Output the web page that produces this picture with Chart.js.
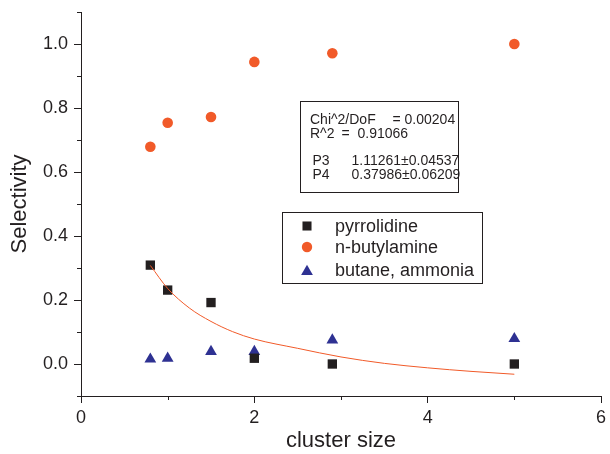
<!DOCTYPE html>
<html><head><meta charset="utf-8">
<script src="https://cdn.jsdelivr.net/npm/chart.js@4"></script>
<style>html,body{margin:0;padding:0;background:#fff}#wrap{width:610px;height:454px;position:relative}</style>
</head><body><div id="wrap"><canvas id="c" width="610" height="454"></canvas></div>
<script>
// ---- data ----
const clusterSizes = [0.8, 1.0, 1.5, 2.0, 2.9, 5.0];
const pyrrolidine = [0.309, 0.231, 0.192, 0.018, 0.0, 0.0];
const nButylamine = [0.679, 0.754, 0.772, 0.944, 0.971, 1.0];
const butaneAmmonia = [0.015, 0.018, 0.039, 0.039, 0.075, 0.079];
const fitX = [0.8, 1.0, 1.25, 1.5, 1.75, 2.0, 2.5, 3.0, 3.5, 4.0, 4.5, 5.0];
const fitY = [0.308, 0.236, 0.175, 0.133, 0.101, 0.078, 0.049, 0.022, 0.002, -0.012, -0.023, -0.032];
const xMajorTicks = [0, 2, 4, 6];
const xMinorTicks = [1, 3, 5];
const yMajorTicks = [0.0, 0.2, 0.4, 0.6, 0.8, 1.0];
const yMinorTicks = [-0.1, 0.1, 0.3, 0.5, 0.7, 0.9, 1.1];
const seriesNames = ['pyrrolidine', 'n-butylamine', 'butane, ammonia'];
const statsLabels = ['Chi^2/DoF', 'R^2', 'P3', 'P4'];
const statsValues = ['= 0.00204', '=  0.91066', '1.11261\u00b10.04537', '0.37986\u00b10.06209'];

const INK = '#231F20';
const ORANGE = '#F15A29';
const NAVY = '#2E3192';
const FONT = '"Liberation Sans", Arial, sans-serif';

const pts = ys => clusterSizes.map((x, i) => ({x, y: ys[i]}));

function marker(ctx, style, x, y, r, color) {
  ctx.save();
  ctx.fillStyle = color;
  ctx.beginPath();
  if (style === 'rect') {
    const s = r * Math.SQRT1_2;
    ctx.rect(x - s, y - s, 2 * s, 2 * s);
  } else if (style === 'circle') {
    ctx.arc(x, y, r, 0, Math.PI * 2);
  } else {
    ctx.moveTo(x, y - r);
    ctx.lineTo(x + r * Math.sin(2 * Math.PI / 3), y + r / 2);
    ctx.lineTo(x - r * Math.sin(2 * Math.PI / 3), y + r / 2);
    ctx.closePath();
  }
  ctx.fill();
  ctx.restore();
}

const extras = {
  id: 'extras',
  afterDraw(chart) {
    const ctx = chart.ctx;
    const xs = chart.scales.x, ys = chart.scales.y;
    ctx.save();
    ctx.strokeStyle = INK;
    ctx.lineWidth = 1;
    // minor ticks
    ctx.beginPath();
    xMinorTicks.forEach(v => {
      const px = Math.round(xs.getPixelForValue(v)) + 0.5;
      ctx.moveTo(px, xs.top); ctx.lineTo(px, xs.top + 4);
    });
    yMinorTicks.forEach(v => {
      const py = Math.round(ys.getPixelForValue(v)) + 0.5;
      ctx.moveTo(ys.right, py); ctx.lineTo(ys.right - 4, py);
    });
    ctx.stroke();

    // stats box
    ctx.fillStyle = '#fff';
    ctx.fillRect(300.5, 101.5, 158, 91);
    ctx.strokeRect(300.5, 101.5, 158, 91);
    ctx.fillStyle = INK;
    ctx.font = '14px ' + FONT;
    ctx.textBaseline = 'alphabetic';
    const sy = [123.5, 138, 165, 179];
    const lx = [310, 310, 312.5, 312.5];
    const vx = [392.5, 341.5, 351.5, 351.5];
    statsLabels.forEach((t, i) => {
      ctx.fillText(t, lx[i], sy[i]);
      ctx.fillText(statsValues[i], vx[i], sy[i]);
    });

    // legend box
    ctx.fillStyle = '#fff';
    ctx.fillRect(282.5, 212.5, 200, 71);
    ctx.strokeRect(282.5, 212.5, 200, 71);
    const ly = [226, 247, 270];
    const styles = ['rect', 'circle', 'triangle'];
    const colors = [INK, ORANGE, NAVY];
    const radii = [6.4, 5.2, 6.8];
    ctx.font = '18px ' + FONT;
    ctx.textBaseline = 'middle';
    seriesNames.forEach((n, i) => {
      marker(ctx, styles[i], 307, ly[i] + (i === 2 ? 1.5 : 0), radii[i], colors[i]);
      ctx.fillStyle = INK;
      ctx.fillText(n, 335, ly[i] + 1);
    });
    ctx.restore();
  }
};

new Chart(document.getElementById('c'), {
  type: 'scatter',
  data: {
    datasets: [
      {label: 'fit', data: fitX.map((x, i) => ({x, y: fitY[i]})), showLine: true,
       borderColor: ORANGE, borderWidth: 1, pointRadius: 0, cubicInterpolationMode: 'monotone', fill: false},
      {label: seriesNames[0], data: pts(pyrrolidine), pointStyle: 'rect', pointRadius: 6.6,
       backgroundColor: INK, borderWidth: 0},
      {label: seriesNames[1], data: pts(nButylamine), pointStyle: 'circle', pointRadius: 5.3,
       backgroundColor: ORANGE, borderWidth: 0},
      {label: seriesNames[2], data: pts(butaneAmmonia), pointStyle: 'triangle', pointRadius: 6.8,
       backgroundColor: NAVY, borderWidth: 0}
    ]
  },
  options: {
    responsive: false,
    animation: false,
    layout: {padding: {top: 12, right: 9, left: 0, bottom: 0}},
    plugins: {legend: {display: false}, tooltip: {enabled: false}},
    scales: {
      x: {
        type: 'linear', min: 0, max: 6,
        afterBuildTicks: s => { s.ticks = xMajorTicks.map(v => ({value: v})); },
        afterFit: s => { s.height = 58; s.paddingLeft = 0; s.paddingRight = 0; },
        ticks: {font: {family: FONT, size: 18}, color: INK, padding: 4, callback: v => String(v)},
        grid: {display: true, drawOnChartArea: false, drawTicks: true, tickLength: 7, color: INK},
        border: {display: true, color: INK, width: 1},
        title: {display: true, text: 'cluster size', font: {family: FONT, size: 22}, color: INK,
                padding: {top: 0, bottom: 0}}
      },
      y: {
        type: 'linear', min: -0.1, max: 1.1,
        afterBuildTicks: s => { s.ticks = yMajorTicks.map(v => ({value: v})); },
        afterFit: s => { s.width = 81; s.paddingTop = 0; s.paddingBottom = 0; },
        ticks: {font: {family: FONT, size: 18}, color: INK, padding: 6, callback: v => v.toFixed(1)},
        grid: {display: true, drawOnChartArea: false, drawTicks: true, tickLength: 7, color: INK},
        border: {display: true, color: INK, width: 1},
        title: {display: true, text: 'Selectivity', font: {family: FONT, size: 22}, color: INK,
                padding: {top: 7, bottom: 0}}
      }
    }
  },
  plugins: [extras]
});
</script></body></html>
